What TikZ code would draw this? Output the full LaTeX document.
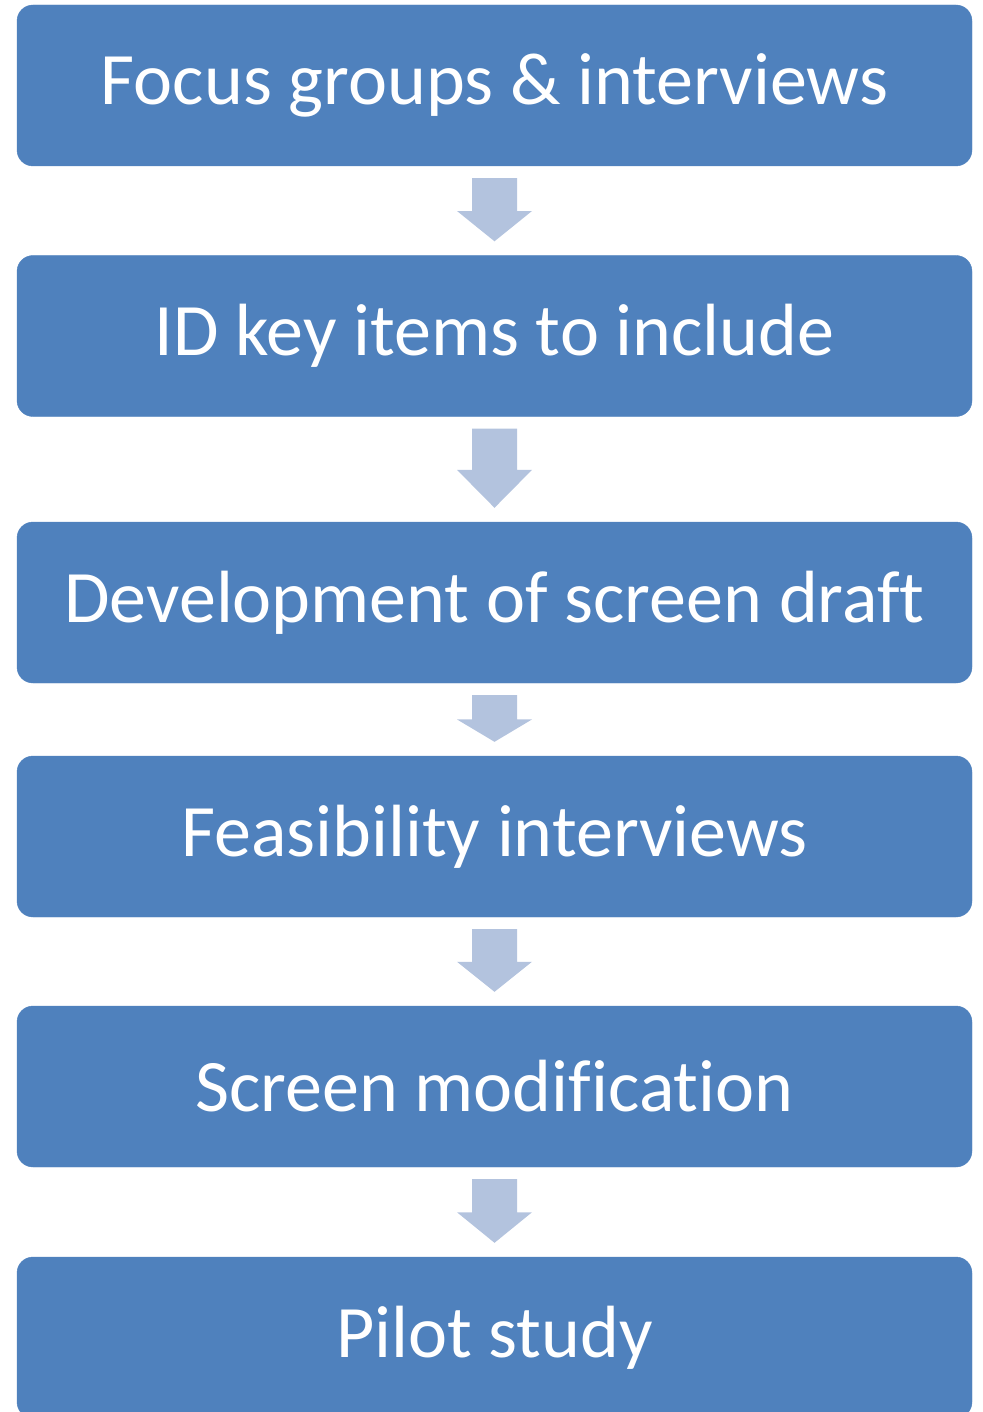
\documentclass[tikz,border=0pt]{standalone}
\usepackage{fontspec}
\setmainfont[Ligatures={NoCommon,NoRare,NoContextual}]{Carlito}
\usetikzlibrary{calc}
\definecolor{boxblue}{RGB}{79,129,189}
\definecolor{arrowblue}{RGB}{179,195,222}
\tikzset{
  stepbox/.style={rectangle, rounded corners=16pt, fill=boxblue, draw=boxblue,
    minimum width=955pt, minimum height=161pt, text=white,
    font=\fontsize{74}{80}\selectfont},
  arrowfill/.style={fill=arrowblue}
}
% block arrow from the bottom of #1 to the top of #2
\newcommand{\blockarrow}[2]{%
  \path ($(#1.south)+(0,-12)$) coordinate (t) ($(#2.north)+(0,14)$) coordinate (p)
    ($(t)!0.52!(p)$) coordinate (h);
  \fill[arrowfill] (t) ++(-22.5,0) -- ++(45,0) -- (h -| {$(t)+(22.5,0)$}) -- ++(15,0)
    -- (p) -- ($(h)+(-37.5,0)$) -- ++(15,0) -- cycle;
}
\begin{document}
\begin{tikzpicture}[x=1pt,y=1pt]
    \useasboundingbox (0,0) rectangle (982,-1412);
    \clip (0,0) rectangle (982,-1412);
    \node[stepbox] (focus) at (494.5,-85.5) {Focus groups \& interviews};
    \node[stepbox] (keyitems) at (494.5,-336) {ID key items to include};
    \node[stepbox] (draft) at (494.5,-602.5) {Development of screen draf\kern0ptt};
    \node[stepbox] (feasib) at (494.5,-836.5) {Feasibility interviews};
    \node[stepbox] (modif) at (494.5,-1086.5) {Screen modificat\kern0ption};
    \node[stepbox] (pilot) at (494.5,-1337.5) {Pilot study};
    \blockarrow{focus}{keyitems} % arrows between the steps
    \blockarrow{keyitems}{draft}
    \blockarrow{draft}{feasib}
    \blockarrow{feasib}{modif}
    \blockarrow{modif}{pilot}
\end{tikzpicture}
\end{document}
